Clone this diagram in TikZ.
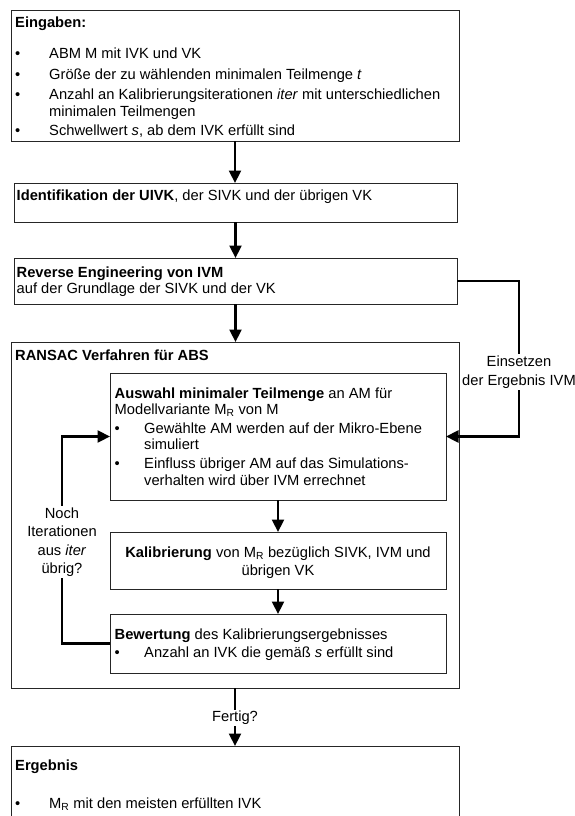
\documentclass[tikz,border=0pt]{standalone}
\usepackage{fontspec}
\setmainfont{Liberation Sans}
\usetikzlibrary{arrows.meta}
\begin{document}
\begin{tikzpicture}[x=1pt,y=-1pt,
  box/.style={draw=black!85, line width=0.8pt, inner sep=0pt, outer sep=0pt},
  arr/.style={line width=2.3pt, -{Triangle[length=12.5pt,width=12pt]}},
  txt/.style={anchor=base west, inner sep=0pt, font=\fontsize{14.7}{17.3}\selectfont},
  ctxt/.style={anchor=base, inner sep=0pt, font=\fontsize{14.7}{17.3}\selectfont},
  lbl/.style={fill=white, inner sep=1.5pt, align=center, font=\fontsize{14.7}{18.5}\selectfont}]
\useasboundingbox (0,0) rectangle (575,816);

% process boxes
\node[box, minimum width=448, minimum height=131] (in) at (235,75.5) {};
\node[box, minimum width=443, minimum height=39] (id) at (235.5,202.5) {};
\node[box, minimum width=443, minimum height=46] (re) at (235.5,281) {};
\node[box, minimum width=448, minimum height=346] (ransac) at (235,515) {};
\node[box, minimum width=336, minimum height=127] (sel) at (278,436.5) {};
\node[box, minimum width=336, minimum height=57] (cal) at (278,560.5) {};
\node[box, minimum width=336, minimum height=59] (ev) at (278,643.5) {};
\begin{scope}
  \clip (0,0) rectangle (575,816);
  \node[box, minimum width=448, minimum height=90] (res) at (235,791) {};
\end{scope}

% inputs
\node[txt] (inT) at (15,28) {\textbf{Eingaben:}};
\node[txt] (inB1) at (15,59) {•};
\node[txt] (inL1) at (49,59) {ABM M mit IVK und VK};
\node[txt] (inB2) at (15,79) {•};
\node[txt] (inL2) at (49,79) {Größe der zu wählenden minimalen Teilmenge \textit{t}};
\node[txt] (inB3) at (15,99) {•};
\node[txt] (inL3) at (49,99) {Anzahl an Kalibrierungsiterationen \textit{iter} mit unterschiedlichen};
\node[txt] (inL4) at (49,116.5) {minimalen Teilmengen};
\node[txt] (inB5) at (15,135) {•};
\node[txt] (inL5) at (49,135) {Schwellwert \textit{s}, ab dem IVK erfüllt sind};

% identification
\node[txt] (idL1) at (16.5,200) {\textbf{Identifikation der UIVK}, der SIVK und der übrigen VK};

% reverse engineering
\node[txt] (reL1) at (16.5,277) {\textbf{Reverse Engineering von IVM}};
\node[txt] (reL2) at (16.5,293) {auf der Grundlage der SIVK und der VK};

% RANSAC frame
\node[txt] (raT) at (15,360) {\textbf{RANSAC Verfahren für ABS}};

% selection of minimal subset
\node[txt] (seL1) at (114.5,398) {\textbf{Auswahl minimaler Teilmenge} an AM für};
\node[txt] (seL2) at (114.5,414.5) {Modellvariante M\textsubscript{R} von M};
\node[txt] (seB3) at (114.5,433) {•};
\node[txt] (seL3) at (144,433) {Gewählte AM werden auf der Mikro-Ebene};
\node[txt] (seL4) at (144,449.5) {simuliert};
\node[txt] (seB5) at (114.5,468) {•};
\node[txt] (seL5) at (144,468) {Einfluss übriger AM auf das Simulations-};
\node[txt] (seL6) at (144,485) {verhalten wird über IVM errechnet};

% calibration
\node[ctxt] (caL1) at (278,557) {\textbf{Kalibrierung} von M\textsubscript{R} bezüglich SIVK, IVM und};
\node[ctxt] (caL2) at (278,575) {übrigen VK};

% evaluation
\node[txt] (evL1) at (114.5,639) {\textbf{Bewertung} des Kalibrierungsergebnisses};
\node[txt] (evB2) at (114.5,657) {•};
\node[txt] (evL2) at (144,657) {Anzahl an IVK die gemäß \textit{s} erfüllt sind};

% result
\node[txt] (reT) at (15,770) {\textbf{Ergebnis}};
\node[txt] (reB1) at (15,808) {•};
\node[txt] (reL1b) at (49,808) {M\textsubscript{R} mit den meisten erfüllten IVK};

% connectors
\coordinate (fb) at (519,372);
\coordinate (lp) at (62,542);
\draw[arr] (in.south) -- (in.south |- id.north);
\draw[arr] (id.south) -- (id.south |- re.north);
\draw[arr] (re.south) -- (re.south |- ransac.north);
\draw[arr] (re.east) -| (fb) |- (sel.east);
\draw[arr] (sel.south) -- (cal.north);
\draw[arr] (cal.south) -- (ev.north);
\draw[arr] (ev.west) -| (lp) |- (sel.west);
\draw[arr] (ransac.south) -- (ransac.south |- res.north);

% connector labels
\node[lbl] (lblIns) at (fb) {Einsetzen\\der Ergebnis IVM};
\node[lbl] (lblIter) at (lp) {Noch\\Iterationen\\aus \textit{iter}\\übrig?};
\node[lbl] (lblDone) at (235,718) {Fertig?};
\end{tikzpicture}
\end{document}
